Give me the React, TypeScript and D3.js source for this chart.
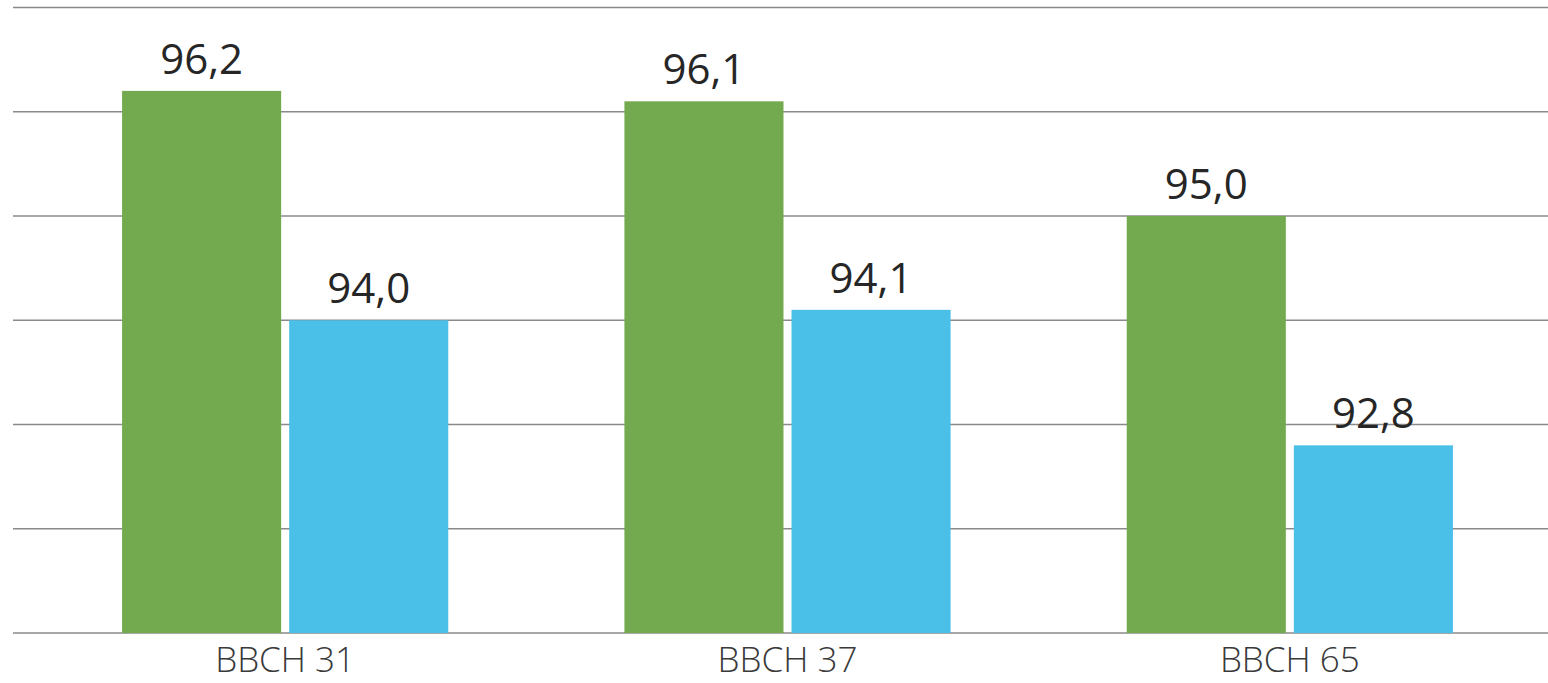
import React from "react";
import * as d3 from "d3";

const categories = ["BBCH 31", "BBCH 37", "BBCH 65"];
const seriesNames = ["A", "B"];
const seriesGreen = [96.2, 96.1, 95.0];
const seriesBlue = [94.0, 94.1, 92.8];
const yDomain = [91, 97];
const colors = ["#73AA4F", "#4ABFE8"];

const W = 1548;
const H = 683;

export default function App() {
  const x0 = d3.scaleBand<string>().domain(categories).range([34, 1541]).padding(0);
  const x1 = d3
    .scaleBand<string>()
    .domain(seriesNames)
    .range([0, x0.bandwidth()])
    .paddingInner(0.048)
    .paddingOuter(0.527);
  const y = d3.scaleLinear().domain(yDomain).range([633, 7.5]);
  const ticks = d3.range(yDomain[0], yDomain[1] + 0.001, 1);
  const fmt = (v: number) => d3.format(".1f")(v).replace(".", ",");
  const series = [seriesGreen, seriesBlue];

  return (
    <svg
      width={W}
      height={H}
      style={{ position: "absolute", left: 0, top: 0, display: "block", background: "#fff" }}
    >
      <g>
        {ticks.map((t) => (
          <line
            key={t}
            x1={13}
            x2={W}
            y1={y(t)}
            y2={y(t)}
            stroke="#8a8a8a"
            strokeWidth={1.4}
          />
        ))}
      </g>
      {categories.map((c, i) => (
        <g key={c} transform={`translate(${x0(c)},0)`}>
          {series.map((s, j) => (
            <rect
              key={j}
              x={x1(seriesNames[j])}
              width={x1.bandwidth()}
              y={y(s[i])}
              height={y(yDomain[0]) - y(s[i])}
              fill={colors[j]}
            />
          ))}
          {series.map((s, j) => (
            <text
              key={"t" + j}
              x={(x1(seriesNames[j]) as number) + x1.bandwidth() / 2}
              y={y(s[i]) - 17}
              textAnchor="middle"
              fontFamily="'Open Sans', sans-serif"
              fontSize={42}
              fill="#262626"
            >
              {fmt(s[i])}
            </text>
          ))}
          <text
            x={x0.bandwidth() / 2}
            y={672}
            textAnchor="middle"
            fontFamily="'Open Sans', sans-serif"
            fontSize={35}
            fontWeight={300}
            fill="#3a3a3a"
          >
            {c}
          </text>
        </g>
      ))}
    </svg>
  );
}
